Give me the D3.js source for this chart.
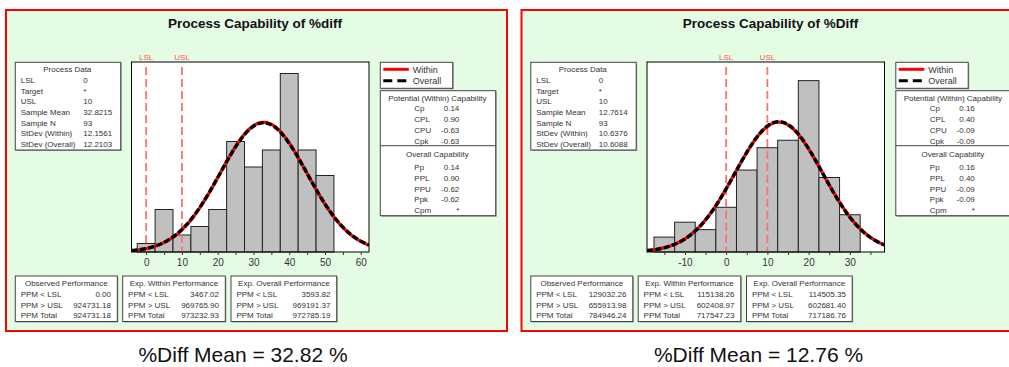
<!DOCTYPE html>
<html><head><meta charset="utf-8">
<script src="https://cdn.jsdelivr.net/npm/d3@7"></script>
<style>
html,body{margin:0;padding:0;background:#fff;}
svg{display:block;}
text{font-family:"Liberation Sans",Arial,sans-serif;}
</style></head>
<body>
<svg id="chart" width="1009" height="367"></svg>
<script>
// ---------------- DATA ----------------
const titles = ["Process Capability of %diff", "Process Capability of %Diff"];
const captions = ["%Diff Mean = 32.82 %", "%Diff Mean = 12.76 %"];

const binCenters1 = [0, 5, 10, 15, 20, 25, 30, 35, 40, 45, 50];
const counts1     = [1, 5, 2, 3, 5, 13, 10, 12, 21, 12, 9];
const binCenters2 = [-15, -10, -5, 0, 5, 10, 15, 20, 25, 30];
const counts2     = [2, 4, 3, 6, 11, 14, 15, 23, 10, 5];
const binWidth = 5;

const lsl = 0, usl = 10, sampleN = 93;
const mean1 = 32.8215, sdWithin1 = 12.1561, sdOverall1 = 12.2103;
const mean2 = 12.7614, sdWithin2 = 10.6376, sdOverall2 = 10.6088;

const xDomain1 = [-4.1, 62.3];
const xDomain2 = [-19.2, 38.4];
const yDomain1 = [0, 22.35];
const yDomain2 = [0, 25.5];
const xTicks1 = [0, 10, 20, 30, 40, 50, 60];
const xMinorTicks1 = [5, 15, 25, 35, 45, 55];
const xTicks2 = [-10, 0, 10, 20, 30];
const xMinorTicks2 = [-15, -5, 5, 15, 25, 35];

const processLabels = ["LSL", "Target", "USL", "Sample Mean", "Sample N", "StDev (Within)", "StDev (Overall)"];
const processValues1 = ["0", "*", "10", "32.8215", "93", "12.1561", "12.2103"];
const processValues2 = ["0", "*", "10", "12.7614", "93", "10.6376", "10.6088"];

const potentialLabels = ["Cp", "CPL", "CPU", "Cpk"];
const potentialValues1 = ["0.14", "0.90", "-0.63", "-0.63"];
const potentialValues2 = ["0.16", "0.40", "-0.09", "-0.09"];
const overallLabels = ["Pp", "PPL", "PPU", "Ppk", "Cpm"];
const overallValues1 = ["0.14", "0.90", "-0.62", "-0.62", "*"];
const overallValues2 = ["0.16", "0.40", "-0.09", "-0.09", "*"];

const legendLabels = ["Within", "Overall"];
const perfTitles = ["Observed Performance", "Exp. Within Performance", "Exp. Overall Performance"];
const perfLabels = ["PPM < LSL", "PPM > USL", "PPM Total"];
const perfValues1 = [["0.00", "924731.18", "924731.18"], ["3467.02", "969765.90", "973232.93"], ["3593.82", "969191.37", "972785.19"]];
const perfValues2 = [["129032.26", "655913.98", "784946.24"], ["115138.26", "602408.97", "717547.23"], ["114505.35", "602681.40", "717186.76"]];

// ---------------- DRAW ----------------
const svg = d3.select("#chart");
svg.append("rect").attr("width", 1009).attr("height", 367).attr("fill", "#fff");
const TXT = "#333";
const FS = 8;

function box(g, x, y, w, h) {
  g.append("rect").attr("x", x + 1).attr("y", y + 1).attr("width", w).attr("height", h).attr("fill", "#999");
  g.append("rect").attr("x", x).attr("y", y).attr("width", w).attr("height", h)
    .attr("fill", "#fff").attr("stroke", "#444").attr("stroke-width", 1);
}
function txt(g, x, y, s, anchor, size, opts) {
  const t = g.append("text").attr("x", x).attr("y", y).attr("text-anchor", anchor || "start")
    .attr("font-size", size || FS).attr("fill", (opts && opts.fill) || TXT).text(s);
  if (opts && opts.weight) t.attr("font-weight", opts.weight);
  return t;
}

function drawPanel(p) {
  const g = svg.append("g").attr("transform", `translate(${p.x0},0)`);
  // panel background & border
  g.append("rect").attr("x", 1).attr("y", 10).attr("width", 501).attr("height", 321)
    .attr("fill", "#e4fce4").attr("stroke", "#ff0000").attr("stroke-width", 2);
  // title
  txt(g, 250, 28, p.title, "middle", 13.5, {weight: "bold", fill: "#111"});

  // ---- plot area ----
  const px0 = 126.5, px1 = 364, py0 = 62, py1 = 252;
  const x = d3.scaleLinear().domain(p.xDomain).range([px0, px1]);
  const y = d3.scaleLinear().domain(p.yDomain).range([py1, py0]);
  g.append("rect").attr("x", px0).attr("y", py0).attr("width", px1 - px0).attr("height", py1 - py0)
    .attr("fill", "#fff");
  const clipId = "clip" + p.id;
  g.append("clipPath").attr("id", clipId).append("rect")
    .attr("x", px0).attr("y", py0).attr("width", px1 - px0).attr("height", py1 - py0);

  // bars
  g.append("g").selectAll("rect").data(p.centers.map((c, i) => ({c, n: p.counts[i]})))
    .join("rect")
    .attr("x", d => x(d.c - binWidth / 2)).attr("width", d => x(d.c + binWidth / 2) - x(d.c - binWidth / 2))
    .attr("y", d => y(d.n)).attr("height", d => y(0) - y(d.n))
    .attr("fill", "#c0c0c0").attr("stroke", "#222").attr("stroke-width", 1);

  // spec lines
  [["LSL", lsl], ["USL", usl]].forEach(([lab, v]) => {
    g.append("line").attr("x1", x(v)).attr("x2", x(v)).attr("y1", py0 + 5).attr("y2", py1)
      .attr("stroke", "#ff7070").attr("stroke-width", 1.8).attr("stroke-dasharray", "8,4");
    txt(g, x(v), 59.5, lab, "middle", 8, {fill: "#ff5555"});
  });

  // normal curves (fitted from mean and st. dev.)
  const pdf = (v, m, s) => Math.exp(-0.5 * ((v - m) / s) ** 2) / (s * Math.sqrt(2 * Math.PI));
  const xs = d3.range(0, 201).map(i => p.xDomain[0] + (p.xDomain[1] - p.xDomain[0]) * i / 200);
  const line = sd => d3.line().x(v => x(v)).y(v => y(pdf(v, p.mean, sd) * sampleN * binWidth));
  const cg = g.append("g").attr("clip-path", `url(#${clipId})`);
  cg.append("path").datum(xs).attr("d", line(p.sdWithin)).attr("fill", "none")
    .attr("stroke", "#ff0000").attr("stroke-width", 3.2);
  cg.append("path").datum(xs).attr("d", line(p.sdOverall)).attr("fill", "none")
    .attr("stroke", "#000").attr("stroke-width", 3.4).attr("stroke-dasharray", "6,2.5");

  // frame
  g.append("rect").attr("x", px0).attr("y", py0).attr("width", px1 - px0).attr("height", py1 - py0)
    .attr("fill", "none").attr("stroke", "#000").attr("stroke-width", 1);

  // axis
  const ax = g.append("g").attr("transform", `translate(0,${py1})`)
    .call(d3.axisBottom(x).tickValues(p.xTicks).tickSize(3).tickPadding(4).tickFormat(d => String(d)));
  ax.select(".domain").remove();
  ax.selectAll("text").attr("font-size", 10).attr("fill", TXT).attr("font-family", '"Liberation Sans",Arial,sans-serif');
  ax.selectAll("line").attr("stroke", "#333");
  const ax2 = g.append("g").attr("transform", `translate(0,${py1})`)
    .call(d3.axisBottom(x).tickValues(p.xMinor).tickSize(3).tickFormat(""));
  ax2.select(".domain").remove();
  ax2.selectAll("line").attr("stroke", "#333");

  // ---- process data box ----
  const bx = 10.3;
  box(g, bx, 62.3, 105.4, 87.7);
  txt(g, bx + 52, 72, "Process Data", "middle");
  processLabels.forEach((l, i) => {
    const yy = 83.2 + 10.6 * i;
    txt(g, bx + 5.4, yy, l);
    txt(g, bx + 68, yy, p.processValues[i]);
  });

  // ---- legend ----
  const lx = 375.3;
  box(g, lx, 62.3, 72.4, 26);
  g.append("line").attr("x1", lx + 3).attr("x2", lx + 28.5).attr("y1", 69.3).attr("y2", 69.3)
    .attr("stroke", "#ff0000").attr("stroke-width", 3);
  g.append("line").attr("x1", lx + 3).attr("x2", lx + 28.5).attr("y1", 80.7).attr("y2", 80.7)
    .attr("stroke", "#000").attr("stroke-width", 3).attr("stroke-dasharray", "9,5");
  txt(g, lx + 32.4, 72.5, legendLabels[0], "start", 9);
  txt(g, lx + 32.4, 84, legendLabels[1], "start", 9);

  // ---- capability box ----
  box(g, lx, 90.7, 115.4, 125);
  g.append("line").attr("x1", lx).attr("x2", lx + 115.4).attr("y1", 145.7).attr("y2", 145.7)
    .attr("stroke", "#444").attr("stroke-width", 1);
  txt(g, lx + 57, 100.6, "Potential (Within) Capability", "middle");
  potentialLabels.forEach((l, i) => {
    const yy = 111.2 + 10.9 * i;
    txt(g, lx + 34, yy, l);
    txt(g, lx + 79, yy, p.potentialValues[i], "end");
  });
  txt(g, lx + 57, 157.2, "Overall Capability", "middle");
  overallLabels.forEach((l, i) => {
    const yy = 170.2 + 10.7 * i;
    txt(g, lx + 34, yy, l);
    txt(g, lx + 79, yy, p.overallValues[i], "end");
  });

  // ---- performance boxes ----
  const pbx = [10.3, 117.7, 226], pbw = [102, 102.6, 105.7];
  perfTitles.forEach((t, k) => {
    const x0 = pbx[k], w = pbw[k];
    box(g, x0, 276, w, 45.5);
    txt(g, x0 + w / 2, 286.2, t, "middle");
    perfLabels.forEach((l, i) => {
      const yy = 297.2 + 10.5 * i;
      txt(g, x0 + 5.4, yy, l);
      txt(g, x0 + w - 6.3, yy, p.perfValues[k][i], "end");
    });
  });

  // caption below panel
  txt(g, 238, 362, p.caption, "middle", 21, {fill: "#111"});
}

drawPanel({id: 1, x0: 5, title: titles[0], caption: captions[0],
  centers: binCenters1, counts: counts1, mean: mean1, sdWithin: sdWithin1, sdOverall: sdOverall1,
  xDomain: xDomain1, yDomain: yDomain1, xTicks: xTicks1, xMinor: xMinorTicks1,
  processValues: processValues1, potentialValues: potentialValues1, overallValues: overallValues1,
  perfValues: perfValues1});
drawPanel({id: 2, x0: 520.5, title: titles[1], caption: captions[1],
  centers: binCenters2, counts: counts2, mean: mean2, sdWithin: sdWithin2, sdOverall: sdOverall2,
  xDomain: xDomain2, yDomain: yDomain2, xTicks: xTicks2, xMinor: xMinorTicks2,
  processValues: processValues2, potentialValues: potentialValues2, overallValues: overallValues2,
  perfValues: perfValues2});
</script>
</body></html>
